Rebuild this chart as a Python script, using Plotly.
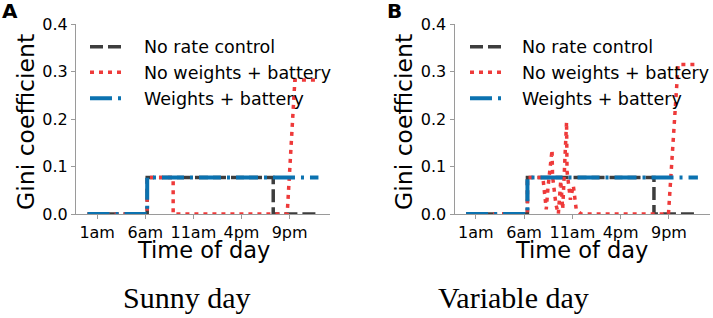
import plotly.graph_objects as go

W, H = 713, 318

# ---- data (hours of day, Gini coefficient) ----
tick_vals = [1, 6, 11, 16, 21]
tick_text = ["1am", "6am", "11am", "4pm", "9pm"]
y_ticks = [0.0, 0.1, 0.2, 0.3, 0.4]

a_gray_t = [0, 6.2, 6.2, 19.3, 19.3, 24]
a_gray_y = [0, 0, 0.077, 0.077, 0, 0]
a_red_t = [0, 6.2, 6.2, 8.9, 8.9, 20.75, 21.55, 24]
a_red_y = [0, 0, 0.077, 0.077, 0, 0, 0.282, 0.282]
a_blue_t = [0, 6.2, 6.2, 24]
a_blue_y = [0, 0, 0.077, 0.077]

b_gray_t = [0, 6.35, 6.35, 19.45, 19.45, 24]
b_gray_y = [0, 0, 0.077, 0.077, 0, 0]
b_red_t = [0, 6.35, 6.35, 7.95, 8.3, 8.5, 8.9, 8.95, 9.3, 9.55, 9.8, 10.0, 10.4,
           10.45, 10.8, 11.1, 11.4, 11.9, 20.95, 21.95, 24]
b_red_y = [0, 0, 0.077, 0.077, 0.01, 0.06, 0.135, 0.08, 0.02, 0.0, 0.07, 0.01, 0.194,
           0.09, 0.03, 0.06, 0.01, 0.0, 0.0, 0.315, 0.315]
b_blue_t = [0, 6.35, 6.35, 24]
b_blue_y = [0, 0, 0.077, 0.077]

names = ["No rate control", "No weights + battery", "Weights + battery"]
GRAY, RED, BLUE = "#3d3d3d", "#ee3a3a", "#0b72b0"


def px(x):
    return x / W


def py(y):
    return 1 - y / H


fig = go.Figure()

styles = [
    dict(color=GRAY, width=3.5, dash="13px,5px"),
    dict(color=RED, width=3.5, dash="4px,5px"),
    dict(color=BLUE, width=4, dash="22px,6px,3px,6px"),
]

panel_a = [(a_gray_t, a_gray_y), (a_red_t, a_red_y), (a_blue_t, a_blue_y)]
panel_b = [(b_gray_t, b_gray_y), (b_red_t, b_red_y), (b_blue_t, b_blue_y)]

for i, (t, y) in enumerate(panel_a):
    fig.add_trace(go.Scatter(x=t, y=y, mode="lines", name=names[i], line=styles[i],
                             xaxis="x", yaxis="y", showlegend=False))
for i, (t, y) in enumerate(panel_b):
    fig.add_trace(go.Scatter(x=t, y=y, mode="lines", name=names[i], line=styles[i],
                             xaxis="x2", yaxis="y2", showlegend=False))

axis_common = dict(showline=True, linecolor="#9a9a9a", linewidth=1, showgrid=False,
                   zeroline=False, ticks="outside", ticklen=4, tickcolor="#9a9a9a",
                   mirror=False, automargin=False,
                   tickfont=dict(family="DejaVu Sans", size=16, color="black"))

x_range = [-1.2, 25.2]
y_dom = [py(214), py(24)]

fig.update_layout(
    template="none",
    width=W, height=H,
    margin=dict(l=0, r=0, t=0, b=0),
    plot_bgcolor="white", paper_bgcolor="white",
    font=dict(family="DejaVu Sans", color="black"),
    showlegend=False,
    xaxis=dict(domain=[px(76), px(330)], range=x_range, tickvals=tick_vals,
               ticktext=tick_text, anchor="y", **axis_common),
    yaxis=dict(domain=y_dom, range=[0, 0.4], tickvals=y_ticks, tickformat=".1f",
               anchor="x", **axis_common),
    xaxis2=dict(domain=[px(454.5), px(709.5)], range=x_range, tickvals=tick_vals,
                ticktext=tick_text, anchor="y2", **axis_common),
    yaxis2=dict(domain=y_dom, range=[0, 0.4], tickvals=y_ticks, tickformat=".1f",
                anchor="x2", **axis_common),
)

# legends (drawn as sample lines + labels)
legend_rows = [46.7, 72.3, 98.3]
for (s0, s1, tx) in [(90, 125, 141.5), (470, 504, 520)]:
    for i, ry in enumerate(legend_rows):
        fig.add_shape(type="line", xref="paper", yref="paper",
                      x0=px(s0), x1=px(s1), y0=py(ry), y1=py(ry),
                      line=styles[i])
        fig.add_annotation(text=names[i], x=px(tx), y=py(ry + 0.5), xref="paper",
                           yref="paper", xanchor="left", yanchor="middle",
                           showarrow=False,
                           font=dict(family="DejaVu Sans", size=17.5, color="black"))

ann = [
    dict(text="Gini coefficient", x=px(26), y=py(122), textangle=-90, size=23.5),
    dict(text="Gini coefficient", x=px(404), y=py(122), textangle=-90, size=23.5),
    dict(text="Time of day", x=px(203), y=py(250), size=22.5),
    dict(text="Time of day", x=px(581), y=py(250), size=22.5),
    dict(text="<b>A</b>", x=px(10), y=py(11), size=20),
    dict(text="<b>B</b>", x=px(395), y=py(11), size=20),
]
for a in ann:
    fig.add_annotation(text=a["text"], x=a["x"], y=a["y"], xref="paper", yref="paper",
                       xanchor="center", yanchor="middle", showarrow=False,
                       textangle=a.get("textangle", 0),
                       font=dict(family="DejaVu Sans", size=a["size"], color="black"))

for txt, xc in [("Sunny day", 187.5), ("Variable day", 513)]:
    fig.add_annotation(text=txt, x=px(xc), y=py(297), xref="paper", yref="paper",
                       xanchor="center", yanchor="middle", showarrow=False,
                       font=dict(family="Liberation Serif", size=30, color="black"))

fig.write_html("out.html",
               config={"displayModeBar": False},
               post_script="document.body.style.margin='0';"
                           "document.body.style.overflow='hidden';")
